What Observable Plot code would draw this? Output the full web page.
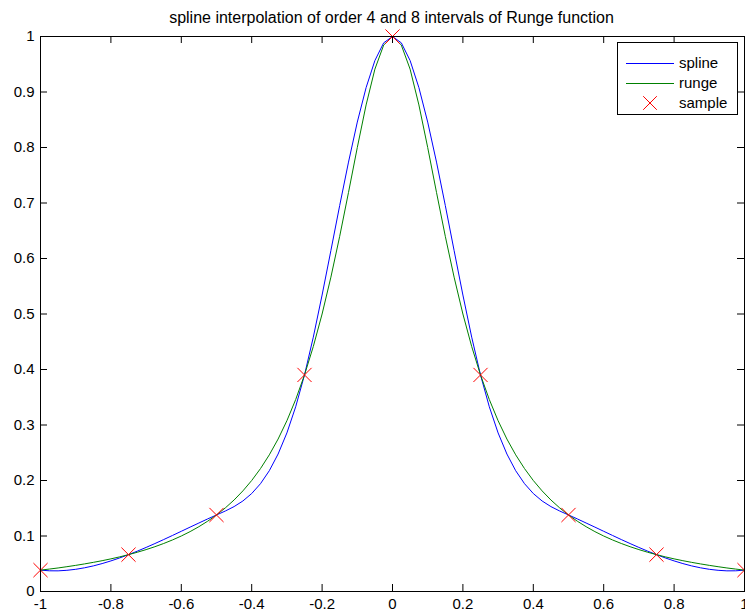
<!DOCTYPE html>
<html>
<head>
<meta charset="utf-8">
<script src="https://cdn.jsdelivr.net/npm/d3@7"></script>
<script src="https://cdn.jsdelivr.net/npm/@observablehq/plot@0.6"></script>
<style>
  body { margin: 0; background: #fff; font-family: Arial, "Liberation Sans", sans-serif; }
  #wrap { position: relative; width: 745px; height: 611px; overflow: hidden; }
  #title { height: 28px; box-sizing: border-box; padding: 10px 1px 0 39px; text-align: center;
           font-size: 16px; line-height: 16px; color: #000; white-space: nowrap; }
  #legend { position: absolute; left: 617px; top: 42px; width: 121px; height: 73px;
            box-sizing: border-box; border: 1px solid #000; background: #fff; }
</style>
</head>
<body>
<div id="wrap">
  <div id="title">spline interpolation of order 4 and 8 intervals of Runge function</div>
  <div id="chart"></div>
  <div id="legend"></div>
</div>
<script>
// ---- data ----
const xs = [-1,-0.975,-0.95,-0.925,-0.9,-0.875,-0.85,-0.825,-0.8,-0.775,-0.75,-0.725,-0.7,-0.675,-0.65,-0.625,-0.6,-0.575,-0.55,-0.525,-0.5,-0.475,-0.45,-0.425,-0.4,-0.375,-0.35,-0.325,-0.3,-0.275,-0.25,-0.225,-0.2,-0.175,-0.15,-0.125,-0.1,-0.075,-0.05,-0.025,0,0.025,0.05,0.075,0.1,0.125,0.15,0.175,0.2,0.225,0.25,0.275,0.3,0.325,0.35,0.375,0.4,0.425,0.45,0.475,0.5,0.525,0.55,0.575,0.6,0.625,0.65,0.675,0.7,0.725,0.75,0.775,0.8,0.825,0.85,0.875,0.9,0.925,0.95,0.975,1];
const splineY = [0.0385,0.0373,0.0372,0.0382,0.0400,0.0427,0.0461,0.0503,0.0551,0.0605,0.0664,0.0727,0.0794,0.0864,0.0936,0.1010,0.1085,0.1160,0.1234,0.1308,0.1379,0.1450,0.1530,0.1631,0.1765,0.1943,0.2176,0.2477,0.2857,0.3329,0.3902,0.4583,0.5342,0.6144,0.6955,0.7737,0.8458,0.9079,0.9567,0.9886,1,0.9886,0.9567,0.9079,0.8458,0.7737,0.6955,0.6144,0.5342,0.4583,0.3902,0.3329,0.2857,0.2477,0.2176,0.1943,0.1765,0.1631,0.1530,0.1450,0.1379,0.1308,0.1234,0.1160,0.1085,0.1010,0.0936,0.0864,0.0794,0.0727,0.0664,0.0605,0.0551,0.0503,0.0461,0.0427,0.0400,0.0382,0.0372,0.0373,0.0385];
const rungeY = [0.0385,0.0404,0.0424,0.0447,0.0471,0.0497,0.0525,0.0555,0.0588,0.0624,0.0664,0.0707,0.0755,0.0807,0.0865,0.0929,0.1,0.1079,0.1168,0.1267,0.1379,0.1506,0.1649,0.1813,0.2,0.2215,0.2462,0.2747,0.3077,0.3459,0.3902,0.4414,0.5,0.5664,0.64,0.7191,0.8,0.8767,0.9412,0.9846,1,0.9846,0.9412,0.8767,0.8,0.7191,0.64,0.5664,0.5,0.4414,0.3902,0.3459,0.3077,0.2747,0.2462,0.2215,0.2,0.1813,0.1649,0.1506,0.1379,0.1267,0.1168,0.1079,0.1,0.0929,0.0865,0.0807,0.0755,0.0707,0.0664,0.0624,0.0588,0.0555,0.0525,0.0497,0.0471,0.0447,0.0424,0.0404,0.0385];
const sampleX = [-1,-0.75,-0.5,-0.25,0,0.25,0.5,0.75,1];
const sampleY = [0.0385,0.0664,0.1379,0.3902,1,0.3902,0.1379,0.0664,0.0385];
const xTicks = [-1,-0.8,-0.6,-0.4,-0.2,0,0.2,0.4,0.6,0.8,1];
const xTickLabels = ["-1","-0.8","-0.6","-0.4","-0.2","0","0.2","0.4","0.6","0.8","1"];
const yTicks = [0,0.1,0.2,0.3,0.4,0.5,0.6,0.7,0.8,0.9,1];
const yTickLabels = ["0","0.1","0.2","0.3","0.4","0.5","0.6","0.7","0.8","0.9","1"];
const seriesNames = ["spline","runge","sample"];
const seriesColors = ["#0000ff","#008000","#ff0000"];

// ---- layout ----
const W = 745, H = 583, mT = 8, mB = 20, mL = 40, mR = 1;
const innerW = W - mL - mR, innerH = H - mT - mB;
const tickLen = 7;

const curveRows = xs.map((x, i) => ({x, spline: splineY[i], runge: rungeY[i]}));
const sampleRows = sampleX.map((x, i) => ({x, y: sampleY[i]}));
const fx = d => xTickLabels[xTicks.indexOf(d)];
const fy = d => yTickLabels[yTicks.indexOf(d)];

const chart = Plot.plot({
  width: W, height: H,
  marginTop: mT, marginBottom: mB, marginLeft: mL, marginRight: mR,
  style: {fontFamily: 'Arial, "Liberation Sans", sans-serif', fontSize: "15px", color: "#000", background: "#fff"},
  x: {domain: [-1, 1], label: null},
  y: {domain: [0, 1], label: null},
  marks: [
    Plot.line(curveRows, {x: "x", y: "spline", stroke: seriesColors[0], strokeWidth: 1}),
    Plot.line(curveRows, {x: "x", y: "runge", stroke: seriesColors[1], strokeWidth: 1}),
    Plot.dot(sampleRows, {x: "x", y: "y", symbol: "times", r: 6.5, stroke: seriesColors[2], strokeWidth: 1}),
    // inward ticks on all four sides
    Plot.tickX(xTicks, {x: d => d, insetTop: innerH - tickLen, stroke: "#000"}),
    Plot.tickX(xTicks, {x: d => d, insetBottom: innerH - tickLen, stroke: "#000"}),
    Plot.tickY(yTicks, {y: d => d, insetRight: innerW - tickLen, stroke: "#000"}),
    Plot.tickY(yTicks, {y: d => d, insetLeft: innerW - tickLen, stroke: "#000"}),
    Plot.frame({stroke: "#000", strokeWidth: 1}),
    Plot.axisX(xTicks, {anchor: "bottom", label: null, tickSize: 0, tickPadding: 7, tickFormat: fx, fontSize: 15}),
    Plot.axisY(yTicks, {anchor: "left", label: null, tickSize: 0, tickPadding: 6, tickFormat: fy, fontSize: 15})
  ]
});
document.getElementById("chart").appendChild(chart);

// ---- legend (inside the axes, upper right) ----
const lg = d3.select("#legend").append("svg").attr("width", 119).attr("height", 71)
  .style("display", "block");
seriesNames.forEach((name, i) => {
  const cy = 20 + i * 20;
  if (name === "sample") {
    const s = 6.8;
    lg.append("path").attr("d", `M${32 - s},${cy - s}L${32 + s},${cy + s}M${32 - s},${cy + s}L${32 + s},${cy - s}`)
      .attr("stroke", seriesColors[i]).attr("fill", "none").attr("stroke-width", 1);
  } else {
    lg.append("line").attr("x1", 8).attr("x2", 56).attr("y1", cy + 0.5).attr("y2", cy + 0.5)
      .attr("stroke", seriesColors[i]).attr("stroke-width", 1);
  }
  lg.append("text").attr("x", 61).attr("y", cy).attr("dy", "0.35em")
    .attr("font-family", 'Arial, "Liberation Sans", sans-serif').attr("font-size", 15)
    .attr("fill", "#000").text(name);
});
</script>
</body>
</html>
